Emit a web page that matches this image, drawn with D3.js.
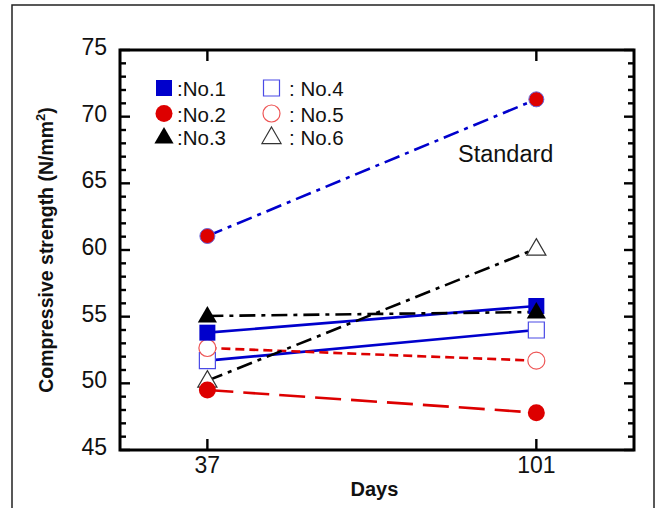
<!DOCTYPE html>
<html><head><meta charset="utf-8">
<script src="https://cdn.jsdelivr.net/npm/d3@7"></script>
<style>body{margin:0;background:#fff}svg{display:block;font-family:"Liberation Sans",Arial,sans-serif}</style>
</head><body><svg id="c" width="662" height="508"></svg>
<script>
const days = [37, 101];
const yTicks = [45, 50, 55, 60, 65, 70, 75];
const seriesNames = ["No.1", "No.2", "No.3", "No.4", "No.5", "No.6", "Standard"];
const no1 = [53.8, 55.8];
const no2 = [49.5, 47.8];
const no3 = [55.05, 55.35];
const no4 = [51.7, 54.0];
const no5 = [52.65, 51.7];
const no6 = [50.2, 60.1];
const standard = [61.05, 71.3];

const svg = d3.select("#c");
const L = 120, R = 634, T = 50, B = 450;
const x = d3.scaleLinear().domain([20, 120]).range([L, R]);
const y = d3.scaleLinear().domain([45, 75]).range([B, T]);

// outer frame
svg.append("rect").attr("x", 12).attr("y", 5).attr("width", 642).attr("height", 530)
  .attr("fill", "none").attr("stroke", "#222").attr("stroke-width", 1.5);

const styles = [
  {name: seriesNames[0], vals: no1, color: "#0000cc", dash: null, shape: "square", fill: true},
  {name: seriesNames[1], vals: no2, color: "#dd0000", dash: "26,10", shape: "circle", fill: true},
  {name: seriesNames[2], vals: no3, color: "#000", dash: "16,6,4,6", shape: "triangle", fill: true},
  {name: seriesNames[3], vals: no4, color: "#0000cc", dash: null, shape: "square", fill: false},
  {name: seriesNames[4], vals: no5, color: "#dd0000", dash: "9,5", shape: "circle", fill: false},
  {name: seriesNames[5], vals: no6, color: "#000", dash: "16,6,4,6", shape: "triangle", fill: false},
  {name: seriesNames[6], vals: standard, color: "#0000cc", dash: "16,6,4,6", shape: "circle", fill: true, std: true}
];

const line = d3.line().x((d, i) => x(days[i])).y(d => y(d));
const g = svg.append("g");
styles.forEach(s => {
  g.append("path").attr("d", line(s.vals)).attr("fill", "none")
    .attr("stroke", s.color).attr("stroke-width", 2.6)
    .attr("stroke-dasharray", s.dash);
});

function marker(sel, s, cx, cy, size) {
  const sym = {square: d3.symbolSquare, circle: d3.symbolCircle, triangle: d3.symbolTriangle}[s.shape];
  let area = s.shape === "square" ? size * size : s.shape === "circle" ? Math.PI * (size / 2) * (size / 2) : size * size * 0.55;
  const p = sel.append("path").attr("d", d3.symbol(sym, area)())
    .attr("transform", `translate(${cx},${cy + (s.shape === "triangle" ? 1 : 0)})`);
  if (s.std) {
    p.attr("fill", "#dd0000").attr("stroke", "#6666dd").attr("stroke-width", 1);
  } else if (s.fill) {
    p.attr("fill", s.color).attr("stroke", "none");
  } else {
    const c = s.color === "#0000cc" ? "#4a4ae6" : s.color === "#dd0000" ? "#ee5555" : "#333";
    p.attr("fill", "#fff").attr("stroke", c).attr("stroke-width", 1.2);
  }
  return p;
}
const order = [3, 4, 5, 0, 1, 2, 6];
const sizes = {square: 16, circle: 17, triangle: 17};
order.forEach(k => {
  const s = styles[k];
  s.vals.forEach((v, i) => marker(g, s, x(days[i]), y(v), s.std ? 15 : sizes[s.shape]));
});

// axes frame
svg.append("rect").attr("x", L).attr("y", T).attr("width", R - L).attr("height", B - T)
  .attr("fill", "none").attr("stroke", "#000").attr("stroke-width", 3);
const minor = d3.range(45, 76, 1);
const tk = svg.append("g").attr("stroke", "#000").attr("stroke-width", 2.4);
minor.forEach(v => {
  const len = v % 5 === 0 ? 10 : 6;
  tk.append("line").attr("x1", L).attr("x2", L + len).attr("y1", y(v)).attr("y2", y(v));
  tk.append("line").attr("x1", R).attr("x2", R - len).attr("y1", y(v)).attr("y2", y(v));
});
days.forEach(d => {
  tk.append("line").attr("x1", x(d)).attr("x2", x(d)).attr("y1", B).attr("y2", B - 11);
  tk.append("line").attr("x1", x(d)).attr("x2", x(d)).attr("y1", T).attr("y2", T + 11);
});

// tick labels
svg.append("g").selectAll("text").data(yTicks).join("text")
  .attr("x", 107).attr("y", d => y(d) + 5).attr("text-anchor", "end")
  .attr("font-size", 23).attr("fill", "#111").text(d => d);
svg.append("g").selectAll("text").data(days).join("text")
  .attr("x", d => x(d)).attr("y", 473).attr("text-anchor", "middle")
  .attr("font-size", 23).attr("fill", "#111").text(d => d);

svg.append("text").attr("x", x(69.5)).attr("y", 496).attr("text-anchor", "middle")
  .attr("font-size", 20).attr("font-weight", "bold").attr("fill", "#111").text("Days");
const yt = svg.append("text").attr("transform", `translate(53,250) rotate(-90)`)
  .attr("text-anchor", "middle").attr("font-size", 19.5).attr("font-weight", "bold").attr("fill", "#111");
yt.append("tspan").text("Compressive strength (N/mm");
yt.append("tspan").attr("font-size", 13).attr("dy", -8).text("2");
yt.append("tspan").attr("dy", 8).text(")");

svg.append("text").attr("x", 458).attr("y", 162).attr("font-size", 23.5).attr("fill", "#111").text("Standard");

// legend
const legRows = [88, 113.5, 137];
styles.slice(0, 6).forEach((s, i) => {
  const col = Math.floor(i / 3), row = i % 3;
  const mx = col === 0 ? 164 : 271.5;
  const ly = legRows[row];
  marker(svg, s, mx, ly, s.shape === "square" ? 16 : 17);
  svg.append("text").attr("x", col === 0 ? 177 : 289).attr("y", ly + 8)
    .attr("font-size", 20.5).attr("fill", "#111").text(col === 0 ? ":" + s.name : ": " + s.name);
});
</script></body></html>
